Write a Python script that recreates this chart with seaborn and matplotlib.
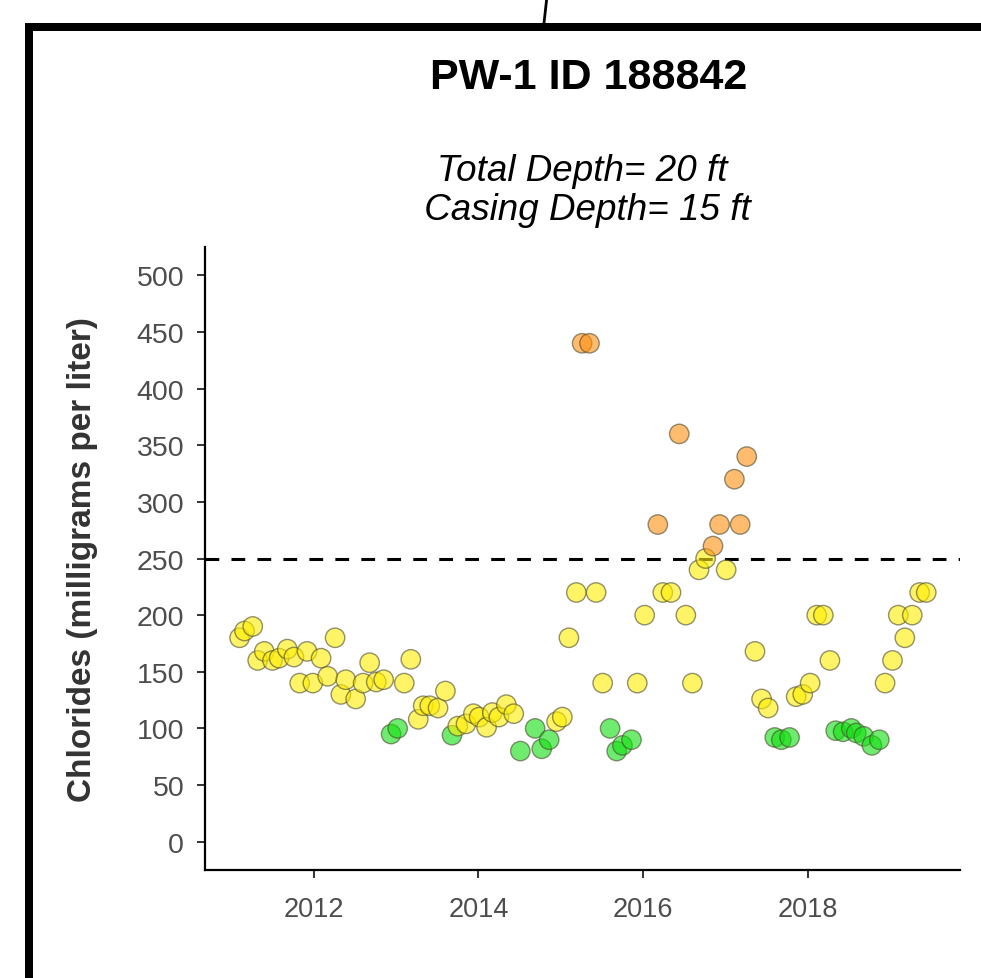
import numpy as np
import pandas as pd
import matplotlib
matplotlib.use("Agg")
import matplotlib.pyplot as plt
from matplotlib.patches import Rectangle
from matplotlib.lines import Line2D
import seaborn as sns

# ---- data (sample time in decimal years, chloride in mg/L) ----
years = [
    2011.10, 2011.16, 2011.26, 2011.32, 2011.40, 2011.50, 2011.58, 2011.68, 2011.76,
    2011.83, 2011.92, 2011.99, 2012.09, 2012.17, 2012.26, 2012.33, 2012.39, 2012.51,
    2012.60, 2012.68, 2012.76, 2012.85, 2012.94, 2013.02, 2013.10, 2013.18, 2013.27,
    2013.33, 2013.41, 2013.51, 2013.60, 2013.68, 2013.75, 2013.85, 2013.94, 2014.01,
    2014.10, 2014.17, 2014.25, 2014.34, 2014.43, 2014.51, 2014.69, 2014.77, 2014.86,
    2014.95, 2015.02, 2015.10, 2015.19, 2015.26, 2015.35, 2015.43, 2015.51, 2015.60,
    2015.68, 2015.75, 2015.86, 2015.93, 2016.02, 2016.18, 2016.24, 2016.34, 2016.44,
    2016.52, 2016.60, 2016.68, 2016.76, 2016.85, 2016.93, 2017.01, 2017.11, 2017.18,
    2017.26, 2017.36, 2017.44, 2017.52, 2017.60, 2017.68, 2017.78, 2017.86, 2017.94,
    2018.03, 2018.11, 2018.19, 2018.27, 2018.34, 2018.43, 2018.53, 2018.59, 2018.68,
    2018.78, 2018.87, 2018.94, 2019.03, 2019.10, 2019.18, 2019.27, 2019.36, 2019.44,
]
chlorides = [
    180, 186, 190, 160, 168, 160, 162, 170, 163,
    140, 168, 140, 162, 146, 180, 130, 143, 126,
    140, 158, 141, 143, 95, 100, 140, 161, 108,
    120, 120, 118, 133, 94, 102, 104, 113, 110,
    101, 114, 110, 121, 113, 80, 100, 82, 90,
    106, 110, 180, 220, 440, 440, 220, 140, 100,
    80, 85, 90, 140, 200, 280, 220, 220, 360,
    200, 140, 240, 250, 261, 280, 240, 320, 280,
    340, 168, 126, 118, 92, 90, 92, 128, 130,
    140, 200, 200, 160, 98, 97, 100, 96, 93,
    85, 90, 140, 160, 200, 180, 200, 220, 220,
]
level_names = ["low", "medium", "high"]
level_colors = ["#10e010", "#ffee00", "#ff9010"]
threshold = 250
year_ticks = [2012, 2014, 2016, 2018]
value_ticks = [0, 50, 100, 150, 200, 250, 300, 350, 400, 450, 500]
title = "PW-1 ID 188842"
subtitle = "Total Depth= 20 ft\n Casing Depth= 15 ft"
ylabel = "Chlorides (milligrams per liter)"

df = pd.DataFrame({"year": years, "chloride": chlorides})
df["level"] = pd.cut(df["chloride"], bins=[-np.inf, 100, 250, np.inf],
                     labels=level_names).astype(str)

sns.set_theme(style="ticks")
plt.rcParams["font.family"] = ["Liberation Sans", "DejaVu Sans"]

W, H = 981, 979
fig = plt.figure(figsize=(W / 100, H / 100), dpi=100)
ax = fig.add_axes([205 / W, 1 - 871 / H, 755 / W, 623 / H])

ax.axhline(threshold, color="black", lw=2.2, ls=(0, (4.5, 4)), zorder=1)
sns.scatterplot(data=df, x="year", y="chloride", hue="level",
                hue_order=level_names,
                palette=dict(zip(level_names, level_colors)),
                s=195, alpha=0.6, edgecolor="#4a4a30", linewidth=1.0,
                legend=False, ax=ax, zorder=3)

ax.set_xlim(2010.68, 2019.85)
ax.set_ylim(-25, 525)
ax.set_xticks(year_ticks)
ax.set_xticklabels([str(y) for y in year_ticks])
ax.set_yticks(value_ticks)
ax.set_xlabel("")
ax.set_ylabel(ylabel, fontsize=24, fontweight="bold", color="#333333")
ax.yaxis.set_label_coords(-0.162, 0.5)
ax.yaxis.label.set_va("center")

for side in ["top", "right"]:
    ax.spines[side].set_visible(False)
for side in ["left", "bottom"]:
    ax.spines[side].set_linewidth(1.6)
    ax.spines[side].set_color("black")
ax.tick_params(axis="both", length=6, width=1.4, color="#333333",
               labelcolor="#4d4d4d")
ax.tick_params(axis="x", labelsize=19.5, pad=13)
ax.tick_params(axis="y", labelsize=20.5, pad=9)

fig.text(589 / W, 1 - 78 / H, title, ha="center", va="center",
         fontsize=31, fontweight="bold", color="black")
fig.text(582 / W, 1 - 191 / H, subtitle, ha="center", va="center",
         fontsize=26.5, fontstyle="italic", color="black", linespacing=1.12)

# frame around the figure (cropped screenshot border)
fig.add_artist(Rectangle((25 / W, 0), 7.5 / W, 1 - 24 / H,
                         transform=fig.transFigure, color="black", lw=0))
fig.add_artist(Rectangle((25 / W, 1 - 31.7 / H), (W - 25) / W, 7.7 / H,
                         transform=fig.transFigure, color="black", lw=0))
fig.add_artist(Line2D([546.7 / W, 544 / W], [1.0, 1 - 24 / H],
                      transform=fig.transFigure, color="black", lw=2.0))

fig.savefig("out.png", dpi=100, facecolor="white")
